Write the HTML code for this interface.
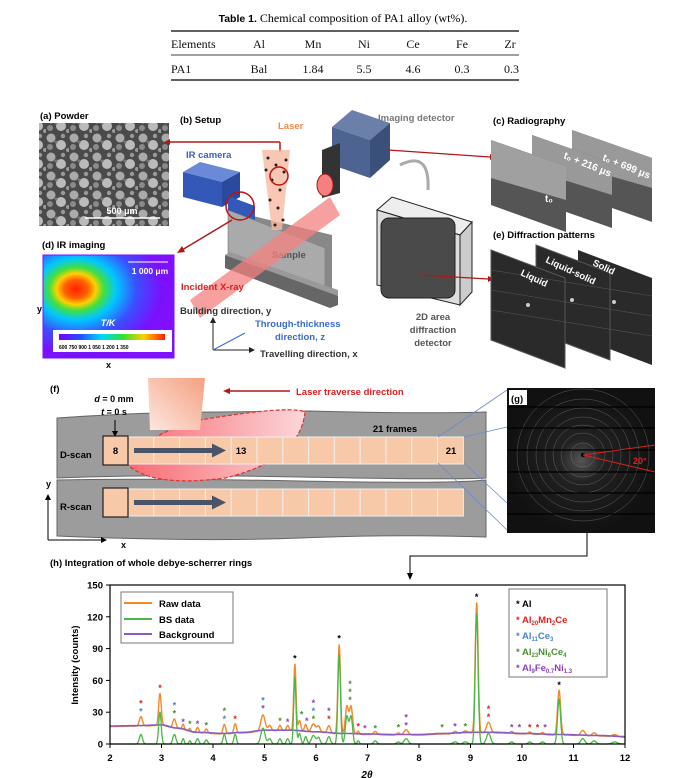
<!DOCTYPE html>
<html><head><meta charset="utf-8"><style>
html,body{margin:0;padding:0;background:#fff;}
svg{display:block;font-family:"Liberation Sans",Arial,sans-serif;}
.b{font-weight:bold;}
.ser{font-family:"Liberation Serif",serif;}
</style></head><body>
<svg id="s" width="686" height="778" viewBox="0 0 686 778" xmlns="http://www.w3.org/2000/svg">
<defs>
<linearGradient id="ir" x1="0" x2="1"><stop offset="0" stop-color="#7a00ff"/><stop offset=".2" stop-color="#2050ff"/><stop offset=".4" stop-color="#00d8ff"/><stop offset=".6" stop-color="#30e030"/><stop offset=".8" stop-color="#ffd000"/><stop offset="1" stop-color="#ff1a00"/></linearGradient>
<radialGradient id="hot" cx="0.27" cy="0.33" r="0.75" fx="0.25" fy="0.33"><stop offset="0" stop-color="#ff2000"/><stop offset=".12" stop-color="#ff6000"/><stop offset=".2" stop-color="#ffd000"/><stop offset=".28" stop-color="#40e040"/><stop offset=".4" stop-color="#00c8ff"/><stop offset=".6" stop-color="#3a50ff"/><stop offset=".85" stop-color="#7a10ff"/><stop offset="1" stop-color="#8010ff"/></radialGradient>
<linearGradient id="nz" x1="1" y1="0" x2="0" y2="1"><stop offset="0" stop-color="#f4a080"/><stop offset="1" stop-color="#fde8e0"/></linearGradient>
<linearGradient id="pool" x1="0" x2="1"><stop offset="0" stop-color="#f86a70"/><stop offset="1" stop-color="#fbd6da"/></linearGradient>
<radialGradient id="dif"><stop offset="0" stop-color="#555"/><stop offset=".3" stop-color="#222"/><stop offset="1" stop-color="#111"/></radialGradient>
<pattern id="pw" width="23" height="19" patternUnits="userSpaceOnUse"><rect width="23" height="19" fill="#4a4a4a"/><circle cx="5" cy="5" r="4.5" fill="#aaa"/><circle cx="15" cy="12" r="5" fill="#bbb"/><circle cx="17" cy="3" r="2.2" fill="#999"/><circle cx="4" cy="14" r="3" fill="#8a8a8a"/><circle cx="10" cy="9" r="1.5" fill="#777"/><circle cx="22" cy="17" r="2" fill="#999"/></pattern>
</defs>

<!-- Table -->
<text x="343" y="22" text-anchor="middle" font-size="10.5"><tspan class="b">Table 1.</tspan><tspan class="ser" font-size="12">  Chemical composition of PA1 alloy (wt%).</tspan></text>
<line x1="171" y1="31" x2="519" y2="31" stroke="#000" stroke-width="1.3"/>
<line x1="171" y1="55" x2="519" y2="55" stroke="#000" stroke-width=".8"/>
<line x1="171" y1="80" x2="519" y2="80" stroke="#000" stroke-width="1.3"/>
<g class="ser" font-size="12" fill="#111">
<text x="171" y="48">Elements</text><text x="259" y="48" text-anchor="middle">Al</text><text x="313" y="48" text-anchor="middle">Mn</text><text x="364" y="48" text-anchor="middle">Ni</text><text x="413" y="48" text-anchor="middle">Ce</text><text x="462" y="48" text-anchor="middle">Fe</text><text x="510" y="48" text-anchor="middle">Zr</text>
<text x="171" y="73">PA1</text><text x="259" y="73" text-anchor="middle">Bal</text><text x="313" y="73" text-anchor="middle">1.84</text><text x="364" y="73" text-anchor="middle">5.5</text><text x="413" y="73" text-anchor="middle">4.6</text><text x="462" y="73" text-anchor="middle">0.3</text><text x="519" y="73" text-anchor="end">0.3</text>
</g>

<!-- (a) -->
<text x="40" y="119" font-size="9.5" class="b">(a) Powder</text>
<rect x="39" y="123" width="130" height="103" fill="url(#pw)"/>
<line x1="85" y1="218" x2="160" y2="218" stroke="#fff" stroke-width="1.5"/>
<text x="122" y="214" font-size="9" fill="#fff" text-anchor="middle" class="b">500 μm</text>

<!-- (d) -->
<text x="42" y="248" font-size="9.5" class="b">(d) IR imaging</text>
<rect x="43" y="255" width="131" height="103" fill="url(#hot)"/>
<rect x="43" y="255" width="131" height="103" fill="none" stroke="#7a10ff"/>
<line x1="128" y1="262" x2="168" y2="262" stroke="#fff"/>
<text x="150" y="274" font-size="8.5" fill="#fff" class="b" text-anchor="middle">1 000 μm</text>
<text x="108" y="326" font-size="9" fill="#fff" class="b" text-anchor="middle" font-style="italic">T/K</text>
<rect x="53" y="330" width="119" height="22" fill="#fff"/>
<rect x="59" y="334" width="106" height="6" fill="url(#ir)"/>
<text x="59" y="349" font-size="5" class="b">600   750   900  1 050  1 200  1 350</text>
<text x="37" y="312" font-size="9" class="b">y</text>
<text x="106" y="368" font-size="9" class="b">x</text>

<!-- (b) setup -->
<text x="180" y="123" font-size="9.5" class="b">(b) Setup</text>
<text x="278" y="129" font-size="9.5" fill="#f08a50" class="b">Laser</text>
<text x="378" y="121" font-size="9.5" fill="#777" class="b">Imaging detector</text>
<text x="186" y="158" font-size="9.5" fill="#3a60c0" class="b">IR camera</text>
<line x1="280" y1="142" x2="170" y2="142" stroke="#b01818" stroke-width="1.5"/>
<polygon points="170,139 164,142 170,145" fill="#b01818"/>
<line x1="280" y1="142" x2="280" y2="152" stroke="#b01818" stroke-width="1.5"/>
<polygon points="228,210 325,248 325,292 228,255" fill="#aaa" stroke="#777" stroke-width=".6"/>
<polygon points="228,210 332,235 332,295 325,292 325,248" fill="#888"/>
<polygon points="225,255 330,292 338,296 338,305 330,308 225,268" fill="#666"/>
<polygon points="225,255 230,252 338,290 338,296" fill="#999"/>
<text x="272" y="258" font-size="9.5" fill="#555" class="b">Sample</text>
<polygon points="190,300 330,197 340,215 200,318" fill="#f48080" opacity=".75"/>
<text x="181" y="290" font-size="9.5" fill="#e02020" class="b">Incident X-ray</text>
<polygon points="262,150 290,150 282,230 272,230" fill="#f7b9a0" opacity=".8"/>
<g fill="#222"><circle cx="268" cy="158" r="1.5"/><circle cx="276" cy="165" r="1.5"/><circle cx="284" cy="172" r="1.5"/><circle cx="272" cy="180" r="1.5"/><circle cx="280" cy="190" r="1.5"/><circle cx="270" cy="200" r="1.5"/><circle cx="278" cy="208" r="1.5"/><circle cx="283" cy="220" r="1.5"/><circle cx="266" cy="170" r="1.5"/><circle cx="286" cy="160" r="1.5"/><circle cx="275" cy="225" r="1.5"/></g>
<circle cx="279" cy="176" r="9" fill="none" stroke="#c01010" stroke-width="1.5"/>
<polygon points="183,172 200,162 240,172 222,182" fill="#6a8ad8"/>
<polygon points="183,172 222,182 222,207 183,197" fill="#3358b8"/>
<polygon points="222,182 240,172 240,197 222,207" fill="#2a4aa0"/>
<polygon points="228,196 255,206 255,220 228,210" fill="#3358b8"/>
<circle cx="240" cy="206" r="14" fill="none" stroke="#c01010" stroke-width="1.5"/>
<line x1="232" y1="220" x2="182" y2="250" stroke="#b01818" stroke-width="1.5"/>
<polygon points="182,246 177,253 185,252" fill="#b01818"/>
<polygon points="332,127 352,110 390,123 370,140" fill="#6a80a8"/>
<polygon points="332,127 370,140 370,178 332,165" fill="#4d6492"/>
<polygon points="370,140 390,123 390,160 370,178" fill="#3a4f7a"/>
<polygon points="322,150 340,143 340,193 322,198" fill="#333"/>
<ellipse cx="325" cy="185" rx="8" ry="11" fill="#f48080" stroke="#b01818"/>
<line x1="388" y1="150" x2="490" y2="157" stroke="#b01818" stroke-width="1.2"/>
<polygon points="490,154 496,157 490,160" fill="#b01818"/>
<path d="M400,165 Q430,150 428,190" fill="none" stroke="#aaa" stroke-width="3"/>
<polygon points="377,210 392,197 472,222 460,235" fill="#eee" stroke="#222" stroke-width="1"/>
<polygon points="377,210 460,235 460,305 377,285" fill="#ddd" stroke="#222" stroke-width="1"/>
<polygon points="460,235 472,222 472,292 460,305" fill="#ccc" stroke="#222" stroke-width="1"/>
<rect x="381" y="218" width="74" height="80" rx="8" fill="#4a4a4a" stroke="#222"/>
<line x1="420" y1="275" x2="488" y2="279" stroke="#b01818" stroke-width="1.3"/>
<polygon points="488,276 494,279 488,282" fill="#b01818"/>
<text x="433" y="320" font-size="9.5" fill="#555" class="b" text-anchor="middle">2D area</text>
<text x="433" y="333" font-size="9.5" fill="#555" class="b" text-anchor="middle">diffraction</text>
<text x="433" y="346" font-size="9.5" fill="#555" class="b" text-anchor="middle">detector</text>
<text x="180" y="314" font-size="9.5" fill="#333" class="b">Building direction, y</text>
<text x="255" y="327" font-size="9.5" fill="#3a6ad0" class="b">Through-thickness</text>
<text x="275" y="340" font-size="9.5" fill="#3a6ad0" class="b">direction, z</text>
<text x="260" y="357" font-size="9.5" fill="#333" class="b">Travelling direction, x</text>
<line x1="213" y1="350" x2="213" y2="322" stroke="#222"/><polygon points="210,323 213,317 216,323" fill="#222"/>
<line x1="213" y1="350" x2="250" y2="350" stroke="#222"/><polygon points="249,347 255,350 249,353" fill="#222"/>
<line x1="213" y1="350" x2="245" y2="333" stroke="#3a6ad0"/>

<!-- (c) -->
<text x="493" y="124" font-size="9.5" class="b">(c) Radiography</text>
<g>
<polygon points="572,130 652,158 652,222 572,194" fill="#555"/><polygon points="572,130 652,158 652,188 572,165" fill="#999"/>
<polygon points="532,135 612,163 612,228 532,200" fill="#555"/><polygon points="532,135 612,163 612,195 532,170" fill="#999"/>
<polygon points="491,140 566,166 566,232 491,205" fill="#555"/><polygon points="491,140 566,166 566,200 491,178" fill="#a0a0a0"/>
<text x="602" y="160" font-size="10" fill="#fff" class="b" transform="rotate(22 602 160)">t₀ + 699 μs</text>
<text x="563" y="158" font-size="10" fill="#fff" class="b" transform="rotate(22 563 158)">t₀ + 216 μs</text>
<text x="545" y="202" font-size="10" fill="#fff" class="b">t₀</text>
</g>
<!-- (e) -->
<text x="493" y="238" font-size="9.5" class="b">(e) Diffraction patterns</text>
<polygon points="578,250 652,278 652,365 578,337" fill="#2a2a2a"/>
<polygon points="536,245 610,273 610,360 536,332" fill="#2a2a2a" stroke="#555"/>
<polygon points="491,250 565,278 565,368 491,340" fill="#2a2a2a" stroke="#555"/>
<g stroke="#555" stroke-width=".6"><line x1="491" y1="270" x2="652" y2="296"/><line x1="491" y1="290" x2="652" y2="316"/><line x1="491" y1="310" x2="652" y2="336"/></g>
<circle cx="528" cy="305" r="2" fill="#ccc"/><circle cx="572" cy="300" r="2" fill="#ccc"/><circle cx="614" cy="302" r="2" fill="#ccc"/>
<text x="520" y="275" font-size="9.5" fill="#fff" class="b" transform="rotate(25 520 275)">Liquid</text>
<text x="545" y="262" font-size="9.5" fill="#fff" class="b" transform="rotate(25 545 262)">Liquid-solid</text>
<text x="592" y="265" font-size="9.5" fill="#fff" class="b" transform="rotate(25 592 265)">Solid</text>

<!-- (f) -->
<text x="50" y="392" font-size="9.5" class="b">(f)</text>
<path d="M57,478 Q150,474 300,477 T486,478 L486,412 Q420,414 310,411 L220,412 Q140,412 57,418 Z" fill="#9c9c9c" stroke="#666"/>
<path d="M57,480 Q150,478 300,481 T486,480 L486,537 Q400,534 300,538 T57,536 Z" fill="#9c9c9c" stroke="#666"/>
<path d="M126,463 Q150,488 225,478 Q300,460 305,412 Q290,405 200,420 Q150,432 126,463 Z" fill="url(#pool)" stroke="#e03030" stroke-dasharray="4,2" stroke-width="1.2"/>
<polygon points="148,378 205,378 200,430 150,430" fill="url(#nz)"/>
<line x1="228" y1="391" x2="290" y2="391" stroke="#b01818" stroke-width="1.5"/><polygon points="230,388 223,391 230,394" fill="#b01818"/>
<text x="296" y="395" font-size="9.5" fill="#e02020" class="b">Laser traverse direction</text>
<text x="114" y="402" font-size="9" class="b" text-anchor="middle"><tspan font-style="italic">d</tspan> = 0 mm</text>
<text x="114" y="415" font-size="9" class="b" text-anchor="middle"><tspan font-style="italic">t</tspan> = 0 s</text>
<line x1="115" y1="420" x2="115" y2="434" stroke="#000"/><polygon points="112,431 115,437 118,431" fill="#000"/>
<text x="395" y="432" font-size="9.5" class="b" text-anchor="middle">21 frames</text>
<g id="row1"></g>
<text x="60" y="458" font-size="9.5" class="b">D-scan</text>
<text x="60" y="510" font-size="9.5" class="b">R-scan</text>
<line x1="48" y1="540" x2="48" y2="498" stroke="#000"/><polygon points="45,500 48,494 51,500" fill="#000"/>
<line x1="48" y1="540" x2="103" y2="540" stroke="#000"/><polygon points="101,537 107,540 101,543" fill="#000"/>
<text x="46" y="487" font-size="9" class="b">y</text><text x="121" y="548" font-size="9" class="b">x</text>

<!-- (g) -->
<rect x="507" y="388" width="148" height="145" fill="url(#dif)"/>
<g fill="none" stroke="#999" stroke-width=".5" opacity=".55"><circle cx="583" cy="455" r="12"/><circle cx="583" cy="455" r="22"/><circle cx="583" cy="455" r="30"/><circle cx="583" cy="455" r="38"/><circle cx="583" cy="455" r="47"/><circle cx="583" cy="455" r="56"/><circle cx="583" cy="455" r="66"/></g>
<g stroke="#000" stroke-width="1.3"><line x1="507" y1="407" x2="655" y2="407"/><line x1="507" y1="428" x2="655" y2="428"/><line x1="507" y1="450" x2="655" y2="450"/><line x1="507" y1="472" x2="655" y2="472"/><line x1="507" y1="493" x2="655" y2="493"/><line x1="507" y1="514" x2="655" y2="514"/></g>
<circle cx="583" cy="455" r="2" fill="#000"/>
<line x1="583" y1="455" x2="655" y2="445" stroke="#e02020"/><line x1="583" y1="455" x2="655" y2="472" stroke="#e02020"/>
<text x="633" y="464" font-size="9" fill="#e02020" class="b">20°</text>
<rect x="509" y="390" width="18" height="15" fill="#fff"/><text x="511" y="402" font-size="9.5" class="b">(g)</text>
<g stroke="#6a8ad0" stroke-width=".8"><line x1="438" y1="437" x2="507" y2="390"/><line x1="464" y1="437" x2="507" y2="427"/><line x1="464" y1="463" x2="507" y2="503"/><line x1="438" y1="463" x2="507" y2="530"/></g>
<polyline points="587,533 587,556 410,556 410,574" fill="none" stroke="#000"/>
<polygon points="407,573 410,580 413,573" fill="#000"/>

<!-- (h) -->
<text x="50" y="566" font-size="9.5" class="b">(h) Integration of whole debye-scherrer rings</text>
<g id="chart"></g>
<rect x="110" y="585" width="515" height="159" fill="none" stroke="#000" stroke-width="1.2"/>
<text x="78" y="665" font-size="9.5" class="b" text-anchor="middle" transform="rotate(-90 78 665)">Intensity (counts)</text>
<text x="367" y="778" font-size="10" class="b" font-style="italic" text-anchor="middle">2θ</text>
<rect x="121" y="592" width="112" height="51" fill="#fff" stroke="#777"/>
<line x1="124" y1="603" x2="152" y2="603" stroke="#f28a2a" stroke-width="2"/><text x="159" y="607" font-size="9.5" class="b">Raw data</text>
<line x1="124" y1="619" x2="152" y2="619" stroke="#4cb648" stroke-width="2"/><text x="159" y="623" font-size="9.5" class="b">BS data</text>
<line x1="124" y1="634" x2="152" y2="634" stroke="#8a5cc0" stroke-width="2"/><text x="159" y="638" font-size="9.5" class="b">Background</text>
<rect x="509" y="589" width="98" height="88" fill="#fff" stroke="#777"/>
<g font-size="9.5" class="b">
<text x="516" y="607">* Al</text>
<text x="516" y="623" fill="#ee1c1c">* Al<tspan font-size="6" dy="2">20</tspan><tspan dy="-2">Mn</tspan><tspan font-size="6" dy="2">2</tspan><tspan dy="-2">Ce</tspan></text>
<text x="516" y="639" fill="#4a80d0">* Al<tspan font-size="6" dy="2">11</tspan><tspan dy="-2">Ce</tspan><tspan font-size="6" dy="2">3</tspan></text>
<text x="516" y="655" fill="#4a9030">* Al<tspan font-size="6" dy="2">23</tspan><tspan dy="-2">Ni</tspan><tspan font-size="6" dy="2">6</tspan><tspan dy="-2">Ce</tspan><tspan font-size="6" dy="2">4</tspan></text>
<text x="516" y="671" fill="#8a40c0">* Al<tspan font-size="6" dy="2">9</tspan><tspan dy="-2">Fe</tspan><tspan font-size="6" dy="2">0.7</tspan><tspan dy="-2">Ni</tspan><tspan font-size="6" dy="2">1.3</tspan></text>
</g>
</svg>
<script>
var NS="http://www.w3.org/2000/svg";
function el(p,t,a,txt){var e=document.createElementNS(NS,t);for(var k in a)e.setAttribute(k,a[k]);if(txt!=null)e.textContent=txt;p.appendChild(e);return e;}
var r=document.getElementById("row1");
[[437,464],[489,516]].forEach(function(y,ri){
 for(var i=0;i<13;i++){el(r,"rect",{x:128+i*25.8,y:y[0],width:25.8,height:y[1]-y[0],fill:"#f7c9a8",stroke:"#eee","stroke-width":1});}
 el(r,"rect",{x:103,y:y[0]-1,width:25,height:y[1]-y[0]+2,fill:"#f7c9a8",stroke:"#222","stroke-width":1.2});
 var ym=(y[0]+y[1])/2;
 el(r,"rect",{x:134,y:ym-2.5,width:80,height:5,fill:"#4a5468"});
 el(r,"polygon",{points:"212,"+(ym-7)+" 226,"+ym+" 212,"+(ym+7),fill:"#4a5468"});
});
el(r,"text",{x:115.5,y:454,"font-size":9.5,"font-weight":"bold","text-anchor":"middle"},"8");
el(r,"text",{x:241,y:454,"font-size":9.5,"font-weight":"bold","text-anchor":"middle"},"13");
el(r,"text",{x:451,y:454,"font-size":9.5,"font-weight":"bold","text-anchor":"middle"},"21");
var c=document.getElementById("chart");
function X(v){return 110+(v-2)*51.5;}
function Y(v){return 744-v*159/150;}
var pk=[[2.6,9,.03],[2.97,30,.025],[3.25,9,.03],[3.42,5,.02],[3.55,3,.02],[3.7,5,.025],[3.87,4,.025],[4.22,9,.025],[4.43,9,.025],[4.97,15,.04],[5.1,5,.03],[5.3,5,.025],[5.45,5,.025],[5.59,63,.022],[5.68,10,.025],[5.8,7,.025],[5.95,8,.04],[6.05,6,.03],[6.25,7,.03],[6.45,84,.025],[6.6,26,.03],[6.68,26,.03],[6.82,3,.02],[7.15,3,.03],[7.6,2,.03],[7.75,5,.04],[8.7,2,.04],[8.9,2,.04],[9.12,123,.028],[9.35,10,.04],[9.8,2,.03],[10.15,2,.03],[10.4,2,.03],[10.72,42,.03],[11.18,5,.04],[11.4,3,.04],[11.8,2,.05]];
var bg=[[2,17],[2.5,17.3],[3,18],[3.3,15],[3.7,11],[4.2,10],[4.6,11],[5,13],[5.5,13],[6,11.5],[6.5,10],[7,9.5],[7.5,9],[8,9],[8.5,10],[9,11],[9.5,11],[10,10],[10.7,9],[11.5,8],[12,7]];
function B(v){for(var i=0;i<bg.length-1;i++){if(v<=bg[i+1][0]){var t=(v-bg[i][0])/(bg[i+1][0]-bg[i][0]);t=(1-Math.cos(t*Math.PI))/2;return bg[i][1]+t*(bg[i+1][1]-bg[i][1]);}}return 7;}
function G(v){var s=0;pk.forEach(function(p){s+=p[1]*Math.exp(-Math.pow((v-p[0])/p[2],2)/2);});return s;}
var pr="",pg="",pb="";
for(var v=2;v<=12.0001;v+=0.004){var b=B(v),g=G(v);pg+=(pg?"L":"M")+X(v).toFixed(1)+","+Y(g).toFixed(1);pr+=(pr?"L":"M")+X(v).toFixed(1)+","+Y(g+b-0.5).toFixed(1);pb+=(pb?"L":"M")+X(v).toFixed(1)+","+Y(b).toFixed(1);}
el(c,"path",{d:pr,fill:"none",stroke:"#f28a2a","stroke-width":1.4});
el(c,"path",{d:pb,fill:"none",stroke:"#8a5cc0","stroke-width":1.6});
el(c,"path",{d:pg,fill:"none",stroke:"#4cb648","stroke-width":1.3});
for(var i=0;i<=5;i++){var y=Y(i*30);el(c,"line",{x1:106,y1:y,x2:110,y2:y,stroke:"#000"});el(c,"text",{x:103,y:y+3.5,"font-size":9.5,"font-weight":"bold","text-anchor":"end"},String(i*30));}
for(var i=2;i<=12;i++){el(c,"line",{x1:X(i),y1:744,x2:X(i),y2:748,stroke:"#000"});el(c,"text",{x:X(i),y:761,"font-size":9.5,"font-weight":"bold","text-anchor":"middle"},String(i));}
var col={k:"#000",r:"#ee1c1c",b:"#4a80d0",g:"#4a9030",p:"#8a40c0"};
var st=[[2.6,["b","r"],25],[2.97,["r"],47],[3.25,["g","b"],23],[3.42,["p"],15],[3.55,["g"],13],[3.7,["p"],13],[3.87,["g"],12],[4.22,["b","g"],18],[4.43,["r"],18],[4.97,["p","b"],28],[5.3,["g"],16],[5.45,["p"],15],[5.59,["k"],75],[5.72,["g"],22],[5.82,["p"],16],[5.95,["g","b","p"],18],[6.25,["r","p"],18],[6.45,["k"],94],[6.66,["g","g","g"],36],[6.82,["r"],11],[6.95,["p"],9],[7.15,["g"],9],[7.6,["g"],10],[7.75,["p","p"],12],[8.45,["g"],10],[8.7,["p"],11],[8.9,["g"],11],[9.12,["k"],133],[9.35,["r","r"],20],[9.8,["p"],10],[9.95,["p"],10],[10.15,["r"],10],[10.3,["r"],10],[10.45,["p"],10],[10.72,["k"],50]];
st.forEach(function(s){var y=Y(s[2])-3;s[1].forEach(function(k,j){el(c,"text",{x:X(s[0]),y:y-j*8,"font-size":9,"font-weight":"bold",fill:col[k],"text-anchor":"middle"},"*");});});
</script>
</body></html>
